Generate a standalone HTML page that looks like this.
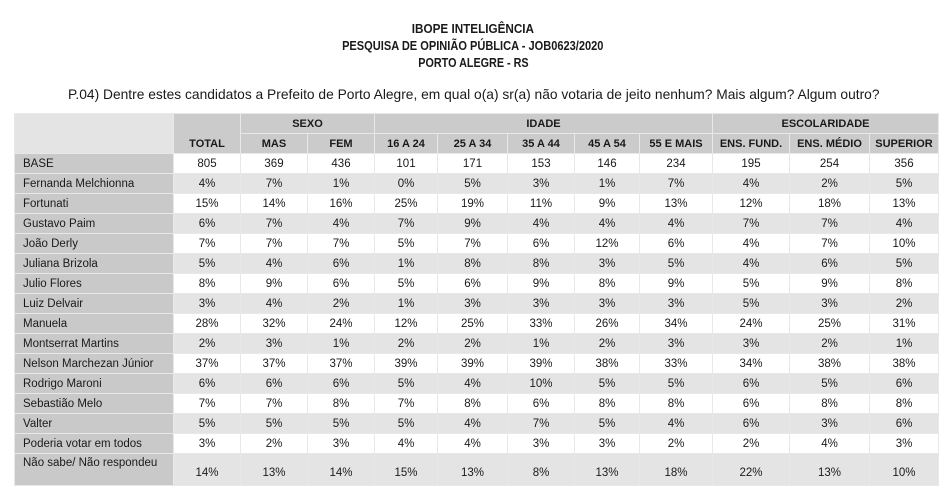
<!DOCTYPE html>
<html><head><meta charset="utf-8">
<style>
html,body{margin:0;padding:0;background:#fff;width:946px;height:499px;overflow:hidden;font-family:"Liberation Sans",sans-serif;color:#1a1a1a}
.t{position:absolute;left:0;width:946px;text-align:center;font-weight:bold;font-size:13px;white-space:nowrap}
.t span{display:inline-block}
#q{position:absolute;left:68px;top:86px;font-size:14px;white-space:nowrap;transform-origin:0 0;transform:scaleX(0.985)}
table{position:absolute;left:14px;top:113px;border-collapse:collapse;table-layout:fixed;font-size:11.5px}
td,th{padding:0;border:1px solid #e8e8e8;text-align:center;overflow:hidden;white-space:nowrap}
th{background:#cbcbcb;font-weight:bold;font-size:11px}
th.tl{background:#e4e4e4}
td.lab{background:#c9c9c9;text-align:left;padding-left:8px}
tr.w td.v{background:#fff}
tr.g td.v{background:#e4e4e4}
tr.last td.lab{vertical-align:top;padding-top:3px}
tr.last td.v{padding-top:6px}
</style></head><body>
<div class="t" style="top:21px"><span style="transform:scaleX(0.9)">IBOPE INTELIGÊNCIA</span></div>
<div class="t" style="top:38px"><span style="transform:scaleX(0.85)">PESQUISA DE OPINIÃO PÚBLICA - JOB0623/2020</span></div>
<div class="t" style="top:55px"><span style="transform:scaleX(0.83)">PORTO ALEGRE - RS</span></div>
<div id="q">P.04) Dentre estes candidatos a Prefeito de Porto Alegre, em qual o(a) sr(a) não votaria de jeito nenhum? Mais algum? Algum outro?</div>
<table id="tbl">
<colgroup><col style="width:159px"><col style="width:67px"><col style="width:67px"><col style="width:67px"><col style="width:63px"><col style="width:70px"><col style="width:67px"><col style="width:65px"><col style="width:73px"><col style="width:77px"><col style="width:80px"><col style="width:69px"></colgroup>
<tr style="height:20px">
<th class="tl" rowspan="2"></th>
<th rowspan="2" style="vertical-align:bottom;padding-bottom:3px">TOTAL</th>
<th colspan="2">SEXO</th>
<th colspan="5">IDADE</th>
<th colspan="3">ESCOLARIDADE</th>
</tr>
<tr style="height:20px">
<th>MAS</th>
<th>FEM</th>
<th>16 A 24</th>
<th>25 A 34</th>
<th>35 A 44</th>
<th>45 A 54</th>
<th>55 E MAIS</th>
<th>ENS. FUND.</th>
<th>ENS. MÉDIO</th>
<th>SUPERIOR</th>
</tr>
</table>
<script>
const rowLabels=["BASE","Fernanda Melchionna","Fortunati","Gustavo Paim","João Derly","Juliana Brizola","Julio Flores","Luiz Delvair","Manuela","Montserrat Martins","Nelson Marchezan Júnior","Rodrigo Maroni","Sebastião Melo","Valter","Poderia votar em todos","Não sabe/ Não respondeu"];
const cellValues=[
["805","369","436","101","171","153","146","234","195","254","356"],
["4%","7%","1%","0%","5%","3%","1%","7%","4%","2%","5%"],
["15%","14%","16%","25%","19%","11%","9%","13%","12%","18%","13%"],
["6%","7%","4%","7%","9%","4%","4%","4%","7%","7%","4%"],
["7%","7%","7%","5%","7%","6%","12%","6%","4%","7%","10%"],
["5%","4%","6%","1%","8%","8%","3%","5%","4%","6%","5%"],
["8%","9%","6%","5%","6%","9%","8%","9%","5%","9%","8%"],
["3%","4%","2%","1%","3%","3%","3%","3%","5%","3%","2%"],
["28%","32%","24%","12%","25%","33%","26%","34%","24%","25%","31%"],
["2%","3%","1%","2%","2%","1%","2%","3%","3%","2%","1%"],
["37%","37%","37%","39%","39%","39%","38%","33%","34%","38%","38%"],
["6%","6%","6%","5%","4%","10%","5%","5%","6%","5%","6%"],
["7%","7%","8%","7%","8%","6%","8%","8%","6%","8%","8%"],
["5%","5%","5%","5%","4%","7%","5%","4%","6%","3%","6%"],
["3%","2%","3%","4%","4%","3%","3%","2%","2%","4%","3%"],
["14%","13%","14%","15%","13%","8%","13%","18%","22%","13%","10%"]];
const tbl=document.getElementById('tbl');
rowLabels.forEach((lab,i)=>{
  const tr=document.createElement('tr');
  const last=i===rowLabels.length-1;
  tr.className=(i%2===0?'w':'g')+(last?' last':'');
  tr.style.height=last?'32px':'20px';
  
  
  const td=document.createElement('td');
  td.className='lab';td.textContent=lab;
  
  
  tr.appendChild(td);
  cellValues[i].forEach(v=>{
    const c=document.createElement('td');
    c.className='v';c.textContent=v;
    
    
    tr.appendChild(c);
  });
  tbl.appendChild(tr);
});
</script>
</body></html>
